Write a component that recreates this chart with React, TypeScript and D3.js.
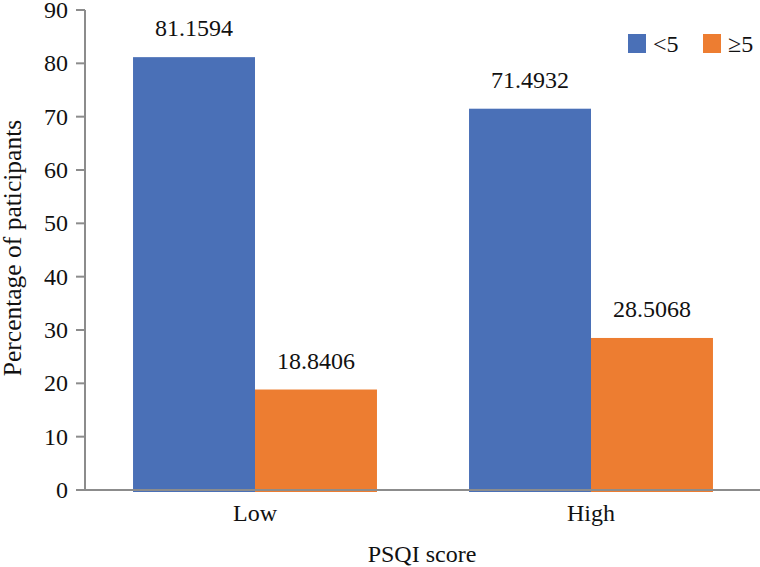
import { useEffect, useRef } from 'react';
import * as d3 from 'd3';

// Data
const categories = ['Low', 'High'];
const seriesNames = ['<5', '≥5'];
const lessThan5 = [81.1594, 71.4932];
const atLeast5 = [18.8406, 28.5068];
const yTicks = [0, 10, 20, 30, 40, 50, 60, 70, 80, 90];

const colors = ['#4A70B7', '#ED7D31'];

export default function App() {
  const svgRef = useRef<SVGSVGElement>(null);

  useEffect(() => {
    if (!svgRef.current) return;
    const width = 760;
    const height = 567;
    const font = "'Liberation Serif', 'DejaVu Serif', serif";

    const svg = d3.select(svgRef.current);
    svg.selectAll('*').remove();
    svg
      .attr('width', width)
      .attr('height', height)
      .style('font-family', font)
      .attr('font-size', 24)
      .attr('fill', '#111');

    // Skale
    const x = d3
      .scaleBand<string>()
      .domain(categories)
      .range([87, 759])
      .paddingInner(0.274)
      .paddingOuter(0.137);
    const xs = d3.scaleBand<string>().domain(seriesNames).range([0, x.bandwidth()]);
    const y = d3.scaleLinear().domain([0, 90]).range([490, 10]);

    const rows = categories.map((c, i) => ({
      cat: c,
      vals: [lessThan5[i], atLeast5[i]],
    }));

    // Stupci
    const groups = svg
      .selectAll('g.grp')
      .data(rows)
      .enter()
      .append('g')
      .attr('class', 'grp')
      .attr('transform', (d) => `translate(${x(d.cat)},0)`);

    groups
      .selectAll('rect')
      .data((d) => d.vals.map((v, j) => ({ v, s: seriesNames[j], j })))
      .enter()
      .append('rect')
      .attr('x', (d) => xs(d.s)!)
      .attr('width', xs.bandwidth())
      .attr('y', (d) => y(d.v))
      .attr('height', (d) => y(0) - y(d.v) + 2)
      .attr('fill', (d) => colors[d.j]);

    groups
      .selectAll('text.val')
      .data((d) => d.vals.map((v, j) => ({ v, s: seriesNames[j] })))
      .enter()
      .append('text')
      .attr('class', 'val')
      .attr('x', (d) => xs(d.s)! + xs.bandwidth() / 2)
      .attr('y', (d) => y(d.v) - 21)
      .attr('text-anchor', 'middle')
      .text((d) => d.v.toFixed(4));

    // Osi
    const axisColor = '#8C8C8C';
    svg
      .append('line')
      .attr('x1', 85)
      .attr('x2', 85)
      .attr('y1', y(90))
      .attr('y2', y(0))
      .attr('stroke', axisColor)
      .attr('stroke-width', 2);
    svg
      .append('line')
      .attr('x1', 76)
      .attr('x2', width)
      .attr('y1', y(0))
      .attr('y2', y(0))
      .attr('stroke', axisColor)
      .attr('stroke-width', 2);

    const ticks = svg.append('g');
    yTicks.forEach((t) => {
      ticks
        .append('line')
        .attr('x1', 76)
        .attr('x2', 85)
        .attr('y1', y(t))
        .attr('y2', y(t))
        .attr('stroke', axisColor)
        .attr('stroke-width', 2);
      ticks
        .append('text')
        .attr('x', 68)
        .attr('y', y(t) + 8)
        .attr('text-anchor', 'end')
        .text(String(t));
    });

    categories.forEach((c) => {
      svg
        .append('text')
        .attr('x', x(c)! + x.bandwidth() / 2)
        .attr('y', 521)
        .attr('text-anchor', 'middle')
        .text(c);
    });

    // Naslovi osi
    svg
      .append('text')
      .attr('x', 422)
      .attr('y', 562)
      .attr('text-anchor', 'middle')
      .text('PSQI score');

    svg
      .append('text')
      .attr('transform', 'translate(21,248) rotate(-90)')
      .attr('text-anchor', 'middle')
      .attr('font-size', 25.5)
      .text('Percentage of paticipants');

    // Legenda
    const legendX = [628, 703];
    seriesNames.forEach((s, i) => {
      svg
        .append('rect')
        .attr('x', legendX[i])
        .attr('y', 34)
        .attr('width', 18)
        .attr('height', 19)
        .attr('fill', colors[i]);
      svg
        .append('text')
        .attr('x', legendX[i] + 25)
        .attr('y', 52)
        .text(s);
    });
  }, []);

  return (
    <div style={{ position: 'absolute', left: 0, top: 0 }}>
      <svg ref={svgRef} style={{ display: 'block' }} />
    </div>
  );
}
